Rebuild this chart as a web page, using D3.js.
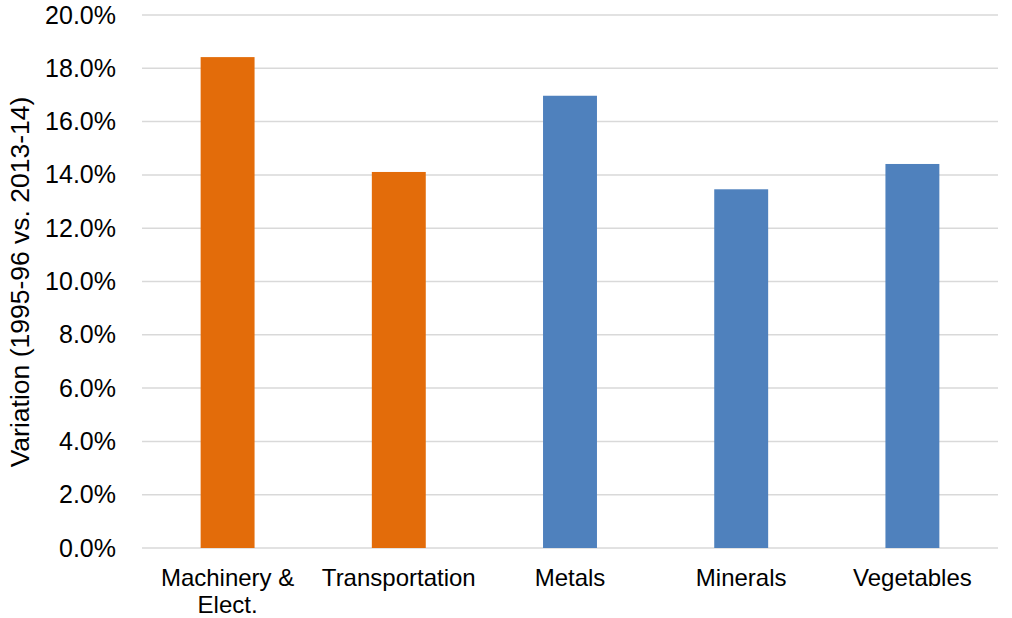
<!DOCTYPE html>
<html><head><meta charset="utf-8">
<script src="https://cdn.jsdelivr.net/npm/d3@7"></script>
<style>body{margin:0;background:#fff;} text{font-family:"Liberation Sans",Arial,sans-serif;}</style>
</head><body>
<svg id="c" width="1012" height="618"></svg>
<script>
const categories = [["Machinery &","Elect."],["Transportation"],["Metals"],["Minerals"],["Vegetables"]];
const values = [0.1842, 0.1411, 0.1697, 0.1346, 0.1441];
const colors = ["#E36C0A","#E36C0A","#4F81BD","#4F81BD","#4F81BD"];
const yTicks = [0,0.02,0.04,0.06,0.08,0.10,0.12,0.14,0.16,0.18,0.20];
const yLabel = "Variation (1995-96 vs. 2013-14)";

(function(){
const svg = d3.select("#c");
const pLeft = 142, pRight = 998, pTop = 15, pBottom = 548;
const keys = categories.map(c => c.join(" "));
const x = d3.scaleBand().domain(keys).range([pLeft, pRight]).paddingInner(0.685).paddingOuter(0.3425);
const y = d3.scaleLinear().domain([0, 0.20]).range([pBottom, pTop]);

svg.append("g").selectAll("line").data(yTicks).join("line")
  .attr("x1", pLeft).attr("x2", pRight)
  .attr("y1", d => y(d)).attr("y2", d => y(d))
  .attr("stroke", "#d9d9d9").attr("stroke-width", 1.5);

const yAxis = d3.axisLeft(y).tickValues(yTicks).tickFormat(d3.format(".1%")).tickSize(0).tickPadding(0);
const ga = svg.append("g").attr("transform", `translate(116,0)`).call(yAxis);
ga.select(".domain").remove();
ga.selectAll("text").attr("font-size", 25).attr("fill", "#000").attr("font-family", "Liberation Sans, Arial, sans-serif");

svg.append("g").selectAll("rect").data(values).join("rect")
  .attr("x", (d,i) => x(keys[i]))
  .attr("width", x.bandwidth())
  .attr("y", d => y(d))
  .attr("height", d => y(0) - y(d))
  .attr("fill", (d,i) => colors[i]);

const xl = svg.append("g").selectAll("text").data(categories).join("text")
  .attr("x", (d,i) => x(keys[i]) + x.bandwidth()/2)
  .attr("y", 586)
  .attr("text-anchor", "middle")
  .attr("font-size", 24)
  .attr("fill", "#000");
xl.each(function(d){
  const t = d3.select(this);
  d.forEach((line, j) => {
    t.append("tspan").attr("x", t.attr("x")).attr("dy", j === 0 ? 0 : 27).text(line);
  });
});

svg.append("text")
  .attr("transform", `translate(29,282) rotate(-90)`)
  .attr("text-anchor", "middle")
  .attr("font-size", 26.5)
  .attr("fill", "#000")
  .text(yLabel);
})();
</script>
</body></html>
